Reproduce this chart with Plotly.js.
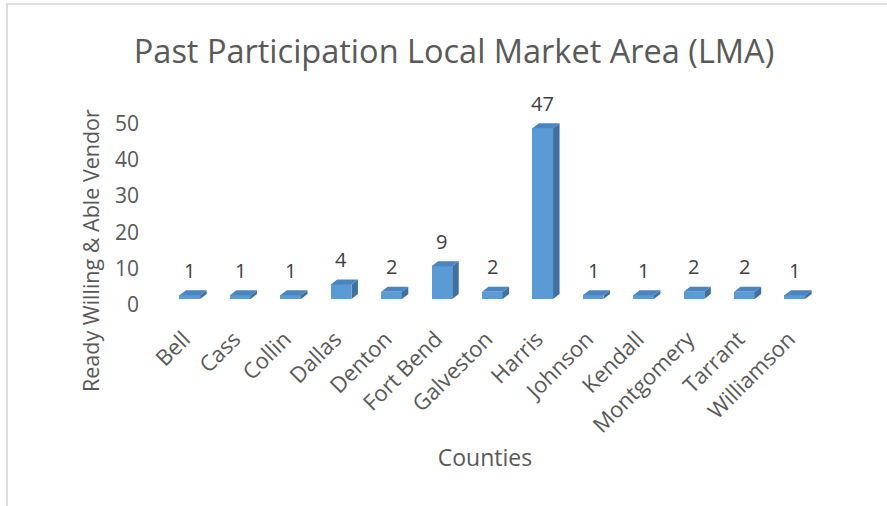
<!DOCTYPE html>
<html>
<head>
<meta charset="utf-8">
<script src="https://cdn.plot.ly/plotly-3.0.1.min.js"></script>
<style>
  html, body { margin: 0; padding: 0; background: #ffffff; }
  #frame { position: absolute; left: 6px; top: 3px; width: 900px; height: 520px;
           border-left: 2px solid #DEDEDE; border-top: 2px solid #DEDEDE; pointer-events: none; }
  #chart { position: absolute; left: 0; top: 0; width: 887px; height: 506px; }
</style>
</head>
<body>
<div id="frame"></div>
<div id="chart"></div>
<script>
// ---- data ----
const counties = ["Bell", "Cass", "Collin", "Dallas", "Denton", "Fort Bend", "Galveston",
                  "Harris", "Johnson", "Kendall", "Montgomery", "Tarrant", "Williamson"];
const vendors = [1, 1, 1, 4, 2, 9, 2, 47, 1, 1, 2, 2, 1];
const yTickVals = [0, 10, 20, 30, 40, 50];

// ---- style / geometry ----
const W = 887, H = 506;
const margin = { l: 150, r: 67, t: 110, b: 207 };
const xRange = [-0.79, 12.5];
const yRange = [0, 52];
const barWidth = 0.41;
const depthPxX = 6.5, depthPxY = 5;

const plotW = W - margin.l - margin.r;
const plotH = H - margin.t - margin.b;
const dx = depthPxX * (xRange[1] - xRange[0]) / plotW;
const dy = depthPxY * (yRange[1] - yRange[0]) / plotH;
const hw = barWidth / 2;
const xs = counties.map((_, i) => i);

// top faces and side faces built from the data values
const topX = [], topY = [], sideX = [], sideY = [];
xs.forEach((x, i) => {
  const v = vendors[i];
  topX.push(x - hw, x + hw, x + hw + dx, x - hw + dx, x - hw, null);
  topY.push(v, v, v + dy, v + dy, v, null);
  sideX.push(x + hw, x + hw, x + hw + dx, x + hw + dx, x + hw, null);
  sideY.push(0, v, v + dy, dy, 0, null);
});

const traces = [
  { type: "bar", x: xs, y: vendors, width: barWidth,
    marker: { color: "#5B9BD5", line: { width: 0 } }, hoverinfo: "skip" },
  { type: "scatter", mode: "lines", x: sideX, y: sideY, fill: "toself",
    fillcolor: "#3E70A1", line: { width: 0, color: "#3E70A1" }, hoverinfo: "skip" },
  { type: "scatter", mode: "lines", x: topX, y: topY, fill: "toself",
    fillcolor: "#4B85C0", line: { width: 0, color: "#4B85C0" }, hoverinfo: "skip" }
];

const annotations = xs.map((x, i) => ({
  x: x, y: vendors[i], xref: "x", yref: "y", text: String(vendors[i]),
  showarrow: false, yshift: 25, yanchor: "middle", xanchor: "center",
  font: { family: "Open Sans", size: 20, color: "#404040" }
}));

// y-axis title, centred where the reference has it
annotations.push({
  text: "Ready Willing & Able Vendor", textangle: -90, showarrow: false,
  xref: "paper", yref: "paper", x: (90 - margin.l) / plotW, y: (H - margin.b - 251) / plotH,
  xanchor: "center", yanchor: "middle",
  font: { family: "Open Sans", size: 21.5, color: "#595959" }
});

const layout = {
  width: W, height: H, margin: margin,
  paper_bgcolor: "rgba(0,0,0,0)", plot_bgcolor: "rgba(0,0,0,0)",
  showlegend: false, bargap: 0,
  font: { family: "Open Sans", color: "#595959" },
  title: { text: "Past Participation Local Market Area (LMA)",
           font: { family: "Open Sans", size: 32.5, color: "#595959" },
           x: 454 / W, xref: "container", xanchor: "center",
           y: 1 - 52 / H, yref: "container", yanchor: "middle" },
  xaxis: { range: xRange, tickvals: xs, ticktext: counties, tickangle: -45,
           showgrid: false, zeroline: false, showline: false, ticks: "",
           ticklabelstandoff: 22, ticklabelshift: -6,
           tickfont: { family: "Open Sans", size: 22, color: "#595959" },
           title: { text: "Counties", standoff: 12,
                    font: { family: "Open Sans", size: 23, color: "#595959" } } },
  yaxis: { range: yRange, tickvals: yTickVals, showgrid: false, zeroline: false,
           showline: false, ticks: "", ticklabelshift: 6, ticklabelstandoff: 10,
           tickfont: { family: "Open Sans", size: 21, color: "#595959" } },
  annotations: annotations
};

Plotly.newPlot("chart", traces, layout, { displayModeBar: false, staticPlot: true });
</script>
</body>
</html>
